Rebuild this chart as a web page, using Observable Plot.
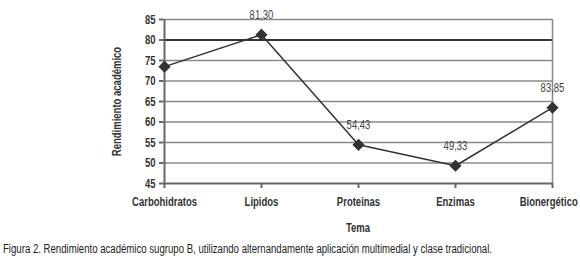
<!DOCTYPE html>
<html>
<head>
<meta charset="utf-8">
<script src="https://cdn.jsdelivr.net/npm/d3@7"></script>
<script src="https://cdn.jsdelivr.net/npm/@observablehq/plot@0.6"></script>
<style>
  html, body { margin: 0; padding: 0; background: #fff; overflow: hidden; }
  #chart svg { display: block; }
  .caption { font-family: "Liberation Sans", Arial, sans-serif; font-size: 12px; color: #222; margin: 4px 0 0 3px; white-space: nowrap; display: inline-block; transform-origin: left center; }
</style>
</head>
<body>
<div id="chart"></div>
<div class="caption" id="cap">Figura 2. Rendimiento académico sugrupo B, utilizando alternandamente aplicación multimedial y clase tradicional.</div>
<script>
const categories = ["Carbohidratos", "Lipidos", "Proteinas", "Enzimas", "Bionergético"];
const values = [73.5, 81.3, 54.43, 49.33, 63.5];
const valueLabels = ["", "81,30", "54,43", "49,33", "83,85"];
const yTicks = [45, 50, 55, 60, 65, 70, 75, 80, 85];
const gridValues = [50, 55, 60, 65, 70, 75, 85];
const strongGrid = [80];

const data = categories.map((c, i) => ({cat: c, v: values[i], lab: valueLabels[i]}));
const font = '"Liberation Sans", Arial, sans-serif';

const plot = Plot.plot({
  width: 580,
  height: 238,
  marginLeft: 163,
  marginRight: 28,
  marginTop: 19,
  marginBottom: 55,
  style: {fontFamily: font, fontSize: "12.5px", color: "#333", background: "#fff"},
  x: {type: "point", domain: categories, padding: 0},
  y: {domain: [45, 85]},
  marks: [
    Plot.ruleY(gridValues, {stroke: "#8a8a8a", strokeWidth: 1.5}),
    Plot.ruleY(strongGrid, {stroke: "#333", strokeWidth: 2}),
    Plot.ruleX([categories[categories.length - 1]], {stroke: "#8a8a8a", strokeWidth: 1.5}),
    Plot.ruleX([categories[0]], {stroke: "#666", strokeWidth: 2}),
    Plot.ruleY([45], {stroke: "#666", strokeWidth: 2}),
    Plot.axisY({ticks: yTicks, tickSize: 4, tickPadding: 4, stroke: "#666", strokeWidth: 2, fontWeight: "bold", fill: "#333", label: "Rendimiento académico", labelAnchor: "center", labelOffset: 51, labelArrow: "none"}),
    Plot.axisX({tickSize: 5, tickPadding: 9, stroke: "#666", strokeWidth: 2, fontWeight: "bold", fill: "#333", label: "Tema", labelAnchor: "center", labelOffset: 48, labelArrow: "none"}),
    Plot.line(data, {x: "cat", y: "v", stroke: "#333", strokeWidth: 1.5}),
    Plot.dot(data, {x: "cat", y: "v", symbol: "diamond2", r: 4.5, fill: "#333", stroke: "#333"}),
    Plot.text(data, {x: "cat", y: "v", text: "lab", dy: -20, fill: "#444", fontSize: 12.5})
  ]
});
document.getElementById("chart").appendChild(plot);

// Emulate the narrow typeface of the original by condensing glyphs horizontally
plot.querySelectorAll("text").forEach(t => {
  const w = t.getComputedTextLength();
  if (w > 0) {
    t.setAttribute("textLength", (w * 0.76).toFixed(2));
    t.setAttribute("lengthAdjust", "spacingAndGlyphs");
  }
});
// Keep texts inside the picture (the original nudges its last category label left)
const svgBox = plot.getBoundingClientRect();
plot.querySelectorAll("text").forEach(t => {
  const r = t.getBoundingClientRect();
  const over = r.right - (svgBox.left + 578);
  if (over > 0) {
    const dx = parseFloat(t.getAttribute("dx") || "0");
    t.setAttribute("dx", (dx - over).toFixed(2));
  }
});
const cap = document.getElementById("cap");
const cw = cap.getBoundingClientRect().width;
cap.style.transform = `scaleX(${489 / cw})`;
</script>
</body>
</html>
